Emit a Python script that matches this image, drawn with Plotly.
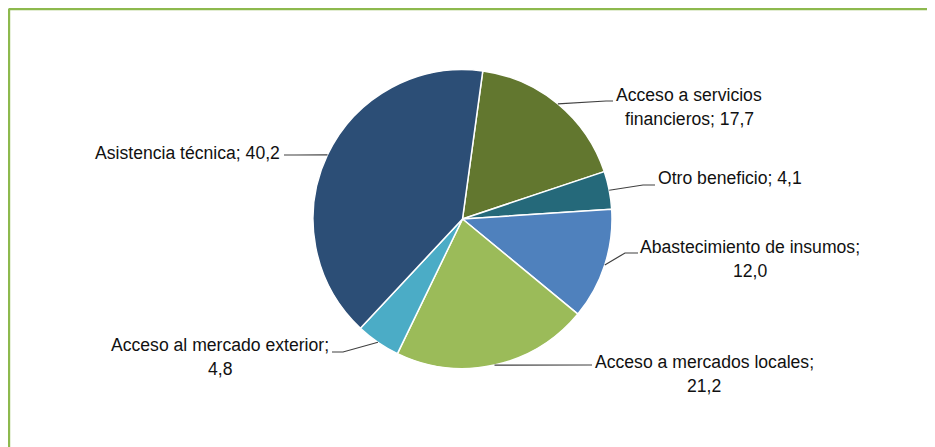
import math
import plotly.graph_objects as go

# ---------------- data ----------------
categories = [
    "Acceso a servicios financieros",
    "Otro beneficio",
    "Abastecimiento de insumos",
    "Acceso a mercados locales",
    "Acceso al mercado exterior",
    "Asistencia técnica",
]
values = [17.7, 4.1, 12.0, 21.2, 4.8, 40.2]

# ---------------- styles / layout ----------------
colors = ["#62772F", "#25697A", "#4F81BD", "#9BBB59", "#4BACC6", "#2C4E76"]
W, H = 935, 447
PAGE_OFF = 8                      # browser body margin (page px -> figure px)
CX, CY, R = 462.5, 219.0, 149.5   # pie centre / radius in page pixels
ROTATION = 7.8                    # degrees, first slice start (clockwise from 12 o'clock)

# words on first line of each label (None = single line)
wrap_words = [3, None, 3, 4, 4, None]
# label first-line centre (page px) and leader elbow/end points (page px)
label_pos = [(689, 95), (730, 178), (750, 247), (704, 362), (220, 345), (187, 153)]
leader_pts = [
    [(606, 101), (613, 101)],
    [(643, 185), (655, 185)],
    [(625, 253), (638, 253)],
    [(588, 365), (592, 365)],
    [(343, 352), (332, 352)],
    [(295, 155), (284, 155)],
]
LINE_GAP = 24
FONT = dict(family="Liberation Sans, Arial, sans-serif", size=17.6, color="#111111")


def px2paper(x, y):
    return (x - PAGE_OFF) / W, 1 - (y - PAGE_OFF) / H


fig = go.Figure()
x0, y1 = px2paper(CX - R, CY - R)
x1, y0 = px2paper(CX + R, CY + R)
fig.add_trace(go.Pie(
    labels=categories,
    values=values,
    sort=False,
    direction="clockwise",
    rotation=ROTATION,
    marker=dict(colors=colors, line=dict(color="white", width=1.5)),
    textinfo="none",
    textposition="none",
    hoverinfo="label+value",
    showlegend=False,
    domain=dict(x=[x0, x1], y=[y0, y1]),
))

total = sum(values)
shapes = []
annotations = []
cum = 0.0
for i, (cat, v) in enumerate(zip(categories, values)):
    mid = ROTATION + (cum + v / 2) / total * 360.0
    cum += v
    a = math.radians(mid)
    sx, sy = CX + R * math.sin(a), CY - R * math.cos(a)
    pts = [(sx, sy)] + leader_pts[i]
    path = ""
    for j, (px, py) in enumerate(pts):
        qx, qy = px2paper(px, py)
        path += ("M" if j == 0 else "L") + f"{qx:.5f},{qy:.5f} "
    shapes.append(dict(type="path", xref="paper", yref="paper", path=path.strip(),
                       line=dict(color="#404040", width=1.2)))

    text = f"{cat}; {v:.1f}".replace(".", ",")
    words = text.split(" ")
    if wrap_words[i]:
        lines = [" ".join(words[:wrap_words[i]]), " ".join(words[wrap_words[i]:])]
    else:
        lines = [text]
    lx, ly = label_pos[i]
    for k, ln in enumerate(lines):
        ax, ay = px2paper(lx, ly + k * LINE_GAP)
        annotations.append(dict(text=ln, x=ax, y=ay, xref="paper", yref="paper",
                                xanchor="center", yanchor="middle", showarrow=False, font=FONT))

# green frame (top and left edges; right/bottom fall outside the window)
BORDER = "#8DB94E"
bx, by = px2paper(8.7, 8.7)
shapes.append(dict(type="line", xref="paper", yref="paper", x0=bx, y0=by, x1=1, y1=by,
                   line=dict(color=BORDER, width=3)))
shapes.append(dict(type="line", xref="paper", yref="paper", x0=bx, y0=by, x1=bx, y1=0,
                   line=dict(color=BORDER, width=3)))

fig.update_layout(
    width=W, height=H,
    margin=dict(l=0, r=0, t=0, b=0),
    paper_bgcolor="white",
    plot_bgcolor="white",
    shapes=shapes,
    annotations=annotations,
)
fig.write_html("out.html")
